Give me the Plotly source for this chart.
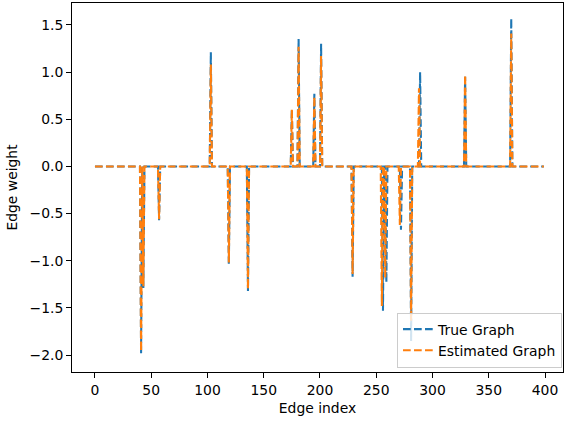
import numpy as np
import plotly.graph_objects as go

n_edges = 400

# Nonzero edges of the true graph: (edge index, weight)
true_idx = [41, 43, 57, 103, 119, 136, 175, 181, 195, 201, 229, 256, 259, 272, 281, 289, 329, 370]
true_w = [-1.98, -1.29, -0.57, 1.21, -1.04, -1.32, 0.61, 1.35, 0.77, 1.30, -1.17, -1.53, -1.23, -0.67, -1.85, 1.00, 0.95, 1.57]

# Nonzero edges of the estimated graph
est_idx = [41, 43, 57, 103, 119, 136, 175, 181, 195, 201, 229, 255, 258, 271, 281, 288, 329, 370]
est_w = [-1.96, -1.27, -0.56, 1.08, -1.02, -1.30, 0.60, 1.27, 0.74, 1.17, -1.14, -1.48, -1.18, -0.62, -1.64, 0.83, 0.97, 1.41]

x_ticks = [0, 50, 100, 150, 200, 250, 300, 350, 400]
y_ticks = [-2.0, -1.5, -1.0, -0.5, 0.0, 0.5, 1.0, 1.5]

edges = np.arange(n_edges)
w_true = np.zeros(n_edges)
w_true[true_idx] = true_w
w_est = np.zeros(n_edges)
w_est[est_idx] = est_w

FONT = "DejaVu Sans"
FS = 13.9
dash = "7.7px,3.3px"

fig = go.Figure()
fig.add_trace(go.Scatter(x=edges, y=w_true, mode="lines", name="True Graph",
                         line=dict(color="#1f77b4", width=2.08, dash=dash)))
fig.add_trace(go.Scatter(x=edges, y=w_est, mode="lines", name="Estimated Graph",
                         line=dict(color="#ff7f0e", width=2.08, dash=dash)))

axis_common = dict(showgrid=False, zeroline=False, showline=True, linecolor="black",
                   linewidth=1.1, mirror=True, ticks="outside", ticklen=4.9,
                   tickwidth=1.1, tickcolor="black",
                   tickfont=dict(family=FONT, size=FS, color="black"))

fig.update_layout(
    width=564, height=421,
    margin=dict(l=72, r=1, t=3, b=49),
    paper_bgcolor="white", plot_bgcolor="white",
    font=dict(family=FONT, size=FS, color="black"),
    xaxis=dict(range=[-20.4, 416.0], tickvals=x_ticks,
               ticktext=[str(v) for v in x_ticks],
               title=dict(text="Edge index", font=dict(family=FONT, size=FS), standoff=6),
               **axis_common),
    yaxis=dict(range=[-2.180, 1.733], tickvals=y_ticks,
               ticktext=[f"{v:.1f}".replace("-", "\u2212") for v in y_ticks],
               title=dict(text="Edge weight", font=dict(family=FONT, size=FS), standoff=8),
               **axis_common),
    legend=dict(x=0.998, y=0.012, xanchor="right", yanchor="bottom",
                bgcolor="rgba(255,255,255,0.8)", bordercolor="#cccccc", borderwidth=1,
                font=dict(family=FONT, size=FS), itemwidth=30, tracegroupgap=2),
    showlegend=True,
)

fig.write_html("out.html")
